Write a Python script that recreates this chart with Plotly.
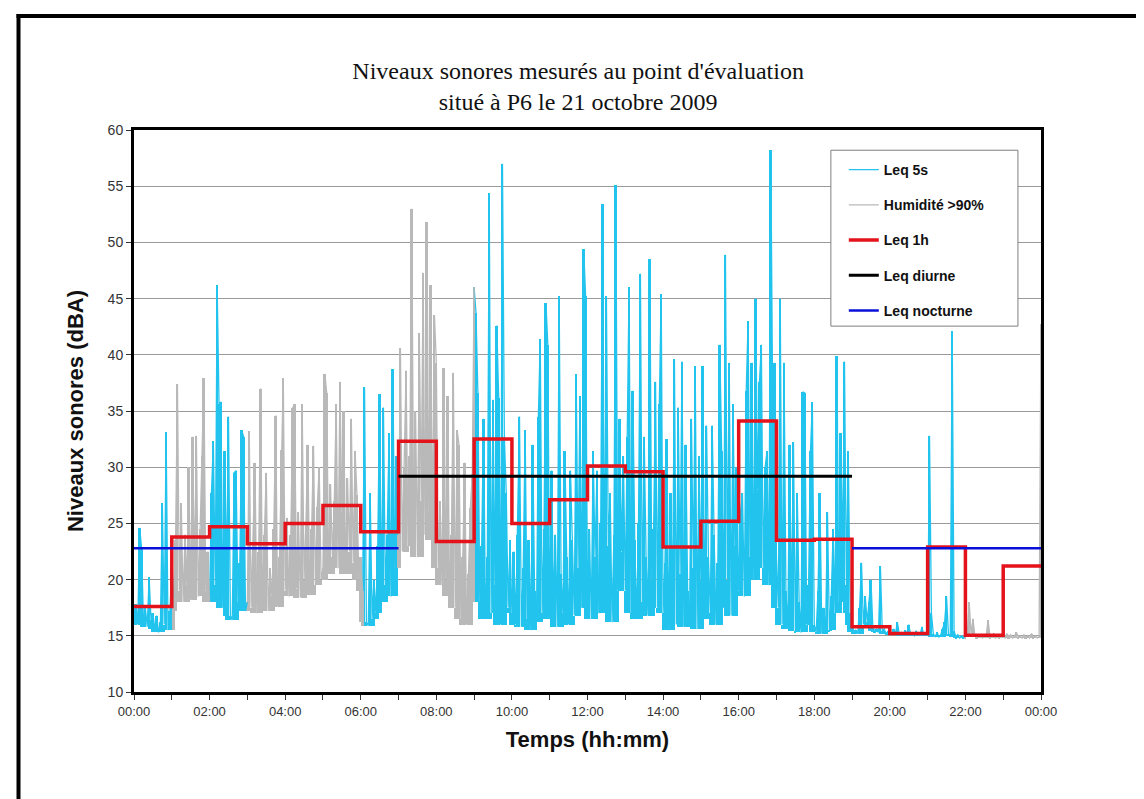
import plotly.graph_objects as go

# ---------------- data ----------------
STEP_H = 0.05  # one sample every 3 minutes (hours)

leq5s_h00 = [16.5, 17.8, 16.0, 24.6, 22.8, 16.2, 17.5, 15.8, 20.2, 16.4, 17.0, 15.6, 16.8, 15.3, 16.2, 26.8, 16.0, 33.1, 15.5, 17.2]
leq5s_h01 = [21.0, 18.5, 23.5, 37.4, 19.0, 26.8, 18.0, 24.0, 19.5, 30.0, 18.2, 32.7, 20.5, 32.8, 18.5, 24.5, 31.0, 37.9, 19.0, 22.5]
leq5s_h02 = [18.0, 27.7, 32.3, 19.5, 46.2, 35.6, 35.8, 17.5, 31.4, 20.5, 34.5, 16.8, 16.4, 29.5, 29.7, 18.0, 21.5, 33.3, 32.7, 17.2]
leq5s_h03 = [18.0, 33.2, 17.5, 23.0, 30.4, 17.0, 22.5, 37.0, 17.8, 24.0, 29.5, 17.2, 21.0, 18.5, 24.5, 34.6, 17.6, 22.0, 31.5, 37.9]
leq5s_h04 = [19.0, 25.5, 18.5, 24.0, 35.3, 35.6, 19.2, 26.0, 18.4, 35.6, 20.0, 25.0, 32.0, 18.6, 24.5, 31.9, 19.5, 26.5, 30.0, 20.0]
leq5s_h05 = [21.0, 38.3, 36.6, 20.5, 28.5, 22.0, 27.0, 35.6, 21.0, 37.6, 26.0, 35.0, 20.5, 29.0, 22.5, 34.3, 21.5, 31.4, 27.5, 20.0]
leq5s_h06 = [22.0, 19.0, 37.1, 16.2, 15.9, 27.7, 16.5, 20.0, 17.0, 23.0, 36.5, 18.0, 35.3, 19.5, 24.0, 33.0, 18.5, 38.7, 21.0, 31.0]
leq5s_h07 = [24.0, 40.6, 22.5, 30.0, 38.6, 23.0, 31.0, 53.0, 24.5, 35.0, 22.0, 41.9, 27.0, 47.3, 24.0, 51.8, 26.0, 46.2, 23.5, 43.5]
leq5s_h08 = [39.3, 21.0, 27.0, 19.5, 38.8, 20.0, 36.3, 18.5, 24.0, 38.4, 17.5, 33.3, 32.0, 16.5, 22.0, 30.4, 16.0, 20.5, 26.4, 29.4]
leq5s_h09 = [46.0, 43.7, 36.6, 18.0, 23.0, 34.3, 16.5, 22.0, 54.4, 17.0, 36.0, 19.5, 42.6, 36.2, 16.0, 57.0, 32.7, 27.7, 17.5, 23.5]
leq5s_h10 = [17.0, 22.5, 16.0, 24.0, 34.5, 15.8, 21.0, 33.3, 16.5, 23.5, 15.5, 32.0, 19.0, 16.2, 34.5, 41.4, 17.0, 24.5, 44.6, 40.9]
leq5s_h11 = [16.5, 29.7, 18.0, 24.0, 15.8, 45.2, 20.5, 17.0, 31.4, 22.0, 16.0, 29.7, 23.5, 16.8, 38.3, 21.0, 36.3, 17.5, 49.4, 45.2]
leq5s_h12 = [18.0, 24.5, 16.5, 31.4, 22.0, 29.7, 17.0, 25.0, 53.4, 18.5, 45.2, 23.0, 27.7, 16.2, 24.0, 55.1, 19.0, 34.3, 22.5, 31.0]
leq5s_h13 = [19.0, 32.7, 46.0, 17.0, 36.8, 23.5, 16.5, 25.0, 47.2, 18.0, 32.7, 22.0, 16.8, 48.5, 20.0, 24.5, 37.6, 17.5, 35.6, 45.4]
leq5s_h14 = [17.0, 21.5, 32.5, 15.5, 27.7, 18.0, 39.6, 16.0, 35.3, 20.5, 39.4, 15.8, 32.0, 19.0, 16.2, 34.3, 21.0, 39.0, 15.6, 31.0]
leq5s_h15 = [20.0, 39.0, 16.5, 33.7, 22.0, 17.0, 33.7, 24.0, 16.0, 21.5, 40.9, 31.4, 17.5, 48.9, 20.0, 39.3, 16.8, 35.6, 23.0, 30.0]
leq5s_h16 = [19.0, 26.0, 27.7, 18.5, 36.8, 43.0, 22.0, 39.3, 20.0, 45.0, 28.0, 37.6, 40.9, 21.0, 30.0, 31.4, 19.5, 58.2, 35.6, 39.3]
leq5s_h17 = [22.0, 17.5, 45.0, 16.0, 39.3, 19.0, 15.6, 32.0, 17.0, 32.2, 15.4, 27.7, 18.0, 15.3, 36.7, 36.6, 16.0, 19.5, 31.4, 35.8]
leq5s_h18 = [16.0, 15.3, 19.0, 27.7, 15.2, 17.5, 15.4, 26.0, 15.5, 18.5, 24.5, 17.0, 39.9, 18.0, 33.0, 22.0, 39.4, 19.5, 31.4, 17.0]
leq5s_h19 = [16.0, 15.3, 15.5, 15.2, 17.5, 21.5, 16.0, 18.5, 16.2, 18.0, 20.0, 15.8, 15.4, 15.6, 15.3, 21.2, 15.4, 15.6, 15.2, 15.4]
leq5s_h20 = [15.3, 15.1, 15.6, 15.2, 16.2, 15.1, 15.3, 15.0, 15.5, 15.2, 16.0, 15.1, 15.2, 15.0, 15.4, 15.2, 15.1, 15.8, 15.0, 15.2]
leq5s_h21 = [15.0, 32.8, 17.0, 15.2, 14.9, 15.3, 14.9, 15.1, 15.6, 16.2, 18.5, 15.2, 15.0, 42.1, 15.4, 14.9, 15.1, 14.8, 15.0, 14.9]
leq5s_h22 = [14.9, 15.2, 18.0, 15.1, 16.5, 15.0, 14.9, 15.1, 15.0, 14.8, 15.1, 15.0, 16.4, 14.9, 15.0, 15.2, 14.8, 15.0, 14.9, 15.1]
leq5s_h23 = [15.0, 14.8, 15.2, 14.9, 15.1, 14.8, 15.0, 15.3, 14.9, 15.0, 14.8, 15.1, 14.9, 15.0, 14.8, 15.2, 14.9, 15.0, 14.8, 15.0]
leq5s_last = [42.7]

# periods with humidity > 90 % (hours)
humid_start = [1.05, 3.0, 7.0, 22.0]
humid_end = [2.0, 6.05, 9.0, 24.0]

# hourly Leq (dBA), hours 0..23
leq1h_hours = list(range(25))
leq1h_values = [17.6, 23.8, 24.7, 23.2, 25.0, 26.6, 24.25, 32.3, 23.4, 32.5, 25.0, 27.1,
                30.1, 29.6, 22.9, 25.2, 34.1, 23.5, 23.6, 15.8, 15.2, 22.9, 15.05, 21.2]

leq_diurne_x = [7, 19]
leq_diurne_y = [29.2, 29.2]
leq_nocturne_x1 = [0, 7]
leq_nocturne_x2 = [19, 24]
leq_nocturne_y = [22.8, 22.8]

xtick_vals = list(range(0, 25, 2))
xtick_text = ["00:00", "02:00", "04:00", "06:00", "08:00", "10:00", "12:00",
              "14:00", "16:00", "18:00", "20:00", "22:00", "00:00"]

# ---------------- build ----------------
leq5s = (leq5s_h00 + leq5s_h01 + leq5s_h02 + leq5s_h03 + leq5s_h04 + leq5s_h05 +
         leq5s_h06 + leq5s_h07 + leq5s_h08 + leq5s_h09 + leq5s_h10 + leq5s_h11 +
         leq5s_h12 + leq5s_h13 + leq5s_h14 + leq5s_h15 + leq5s_h16 + leq5s_h17 +
         leq5s_h18 + leq5s_h19 + leq5s_h20 + leq5s_h21 + leq5s_h22 + leq5s_h23 + leq5s_last)
times = [round(i * STEP_H, 4) for i in range(len(leq5s))]


def inside(t, strict):
    for a, b in zip(humid_start, humid_end):
        if strict and a < t < b:
            return True
        if not strict and a - 1e-9 <= t <= b + 1e-9:
            return True
    return False


cyan_y = [None if inside(t, True) else v for t, v in zip(times, leq5s)]
gray_y = [v if inside(t, False) else None for t, v in zip(times, leq5s)]

# each 3-min column spans from the lowest level of the surrounding samples
# up to the sample, which renders the dense body of the 5 s record
WIN = 3
n = len(leq5s)
floor_y = [min(leq5s[max(0, i - WIN):min(n, i + WIN + 1)]) for i in range(n)]


def heights(series):
    return [None if v is None else max(v - f, 0) for v, f in zip(series, floor_y)]


CYAN = "#22C4EE"
GRAY = "#B9B9B9"
FONT = "Arial, Liberation Sans, sans-serif"

fig = go.Figure()
fig.add_trace(go.Bar(x=times, y=heights(cyan_y), base=floor_y, width=STEP_H,
                     marker=dict(color=CYAN, line=dict(width=0)), showlegend=False,
                     hoverinfo="skip"))
fig.add_trace(go.Bar(x=times, y=heights(gray_y), base=floor_y, width=STEP_H,
                     marker=dict(color=GRAY, line=dict(width=0)), showlegend=False,
                     hoverinfo="skip"))

fig.add_trace(go.Scatter(x=times, y=cyan_y, mode="lines", name="Leq 5s",
                         line=dict(color=CYAN, width=1.3), legendgroup="a",
                         connectgaps=False))
fig.add_trace(go.Scatter(x=times, y=gray_y, mode="lines", name="Humidité >90%",
                         line=dict(color=GRAY, width=1.3), legendgroup="b",
                         connectgaps=False))
fig.add_trace(go.Scatter(x=leq1h_hours, y=leq1h_values + [leq1h_values[-1]], mode="lines",
                         name="Leq 1h", line=dict(color="#E3121B", width=3.5, shape="hv"),
                         legendgroup="c"))
fig.add_trace(go.Scatter(x=leq_diurne_x, y=leq_diurne_y, mode="lines", name="Leq diurne",
                         line=dict(color="#000000", width=3), legendgroup="d"))
fig.add_trace(go.Scatter(x=leq_nocturne_x1 + [None] + leq_nocturne_x2,
                         y=leq_nocturne_y + [None] + leq_nocturne_y, mode="lines",
                         name="Leq nocturne", line=dict(color="#0A10D8", width=2.5),
                         legendgroup="e"))

W, H = 1144, 799
L, R, T, B = 126, 111, 122, 115
PW, PH = W - L - R, H - T - B
PX_PER_H = PW / 24.0


def px(xp):
    return (xp - L) / PW


def py(yp):
    return (H - B - yp) / PH


LEG_X0, LEG_X1 = 18.44, 23.39
leg_left_px = L + 18.2 * PX_PER_H

shapes = [
    # legend frame
    dict(type="rect", xref="x", yref="y", x0=LEG_X0, x1=LEG_X1, y0=42.55, y1=58.2,
         line=dict(color="#7f7f7f", width=1), fillcolor="white", layer="above"),
    # outer page frame
    dict(type="line", xref="paper", yref="paper", x0=px(10.5), x1=px(10.5), y0=py(6), y1=py(810),
         line=dict(color="black", width=4)),
    dict(type="line", xref="paper", yref="paper", x0=px(8.5), x1=px(1140), y0=py(8), y1=py(8),
         line=dict(color="black", width=4)),
    dict(type="line", xref="paper", yref="paper", x0=px(1138), x1=px(1138), y0=py(6), y1=py(810),
         line=dict(color="black", width=4)),
]

fig.update_layout(
    width=W, height=H,
    margin=dict(l=L, r=R, t=T, b=B, autoexpand=False),
    paper_bgcolor="white", plot_bgcolor="white",
    barmode="overlay", bargap=0,
    font=dict(family=FONT, color="#333333", size=13),
    title=dict(text="Niveaux sonores mesurés au point d'évaluation<br>situé à P6 le 21 octobre 2009",
               x=px(578), xanchor="center", y=1 - 71 / H, yanchor="top",
               font=dict(family="Liberation Serif, Times New Roman, serif", size=24, color="#111111")),
    showlegend=True,
    legend=dict(x=px(leg_left_px + 22), y=py(146), xanchor="left", yanchor="top",
                bgcolor="rgba(0,0,0,0)", borderwidth=0, itemwidth=30,
                tracegroupgap=14,
                font=dict(family=FONT, size=14, color="#111111", weight="bold")),
    shapes=shapes,
)

fig.update_xaxes(range=[0, 24], tickmode="array", tickvals=xtick_vals, ticktext=xtick_text,
                 ticks="outside", ticklen=5, tickcolor="#333333", tickwidth=1,
                 showline=True, linewidth=3, linecolor="black", mirror=True,
                 showgrid=False, zeroline=False,
                 tickfont=dict(family=FONT, size=13, color="#333333"),
                 minor=dict(tickmode="linear", tick0=0, dtick=1, ticks="outside", ticklen=5,
                            tickcolor="#333333", showgrid=False),
                 title=dict(text="Temps (hh:mm)", standoff=15,
                            font=dict(family=FONT, size=22, color="#111111", weight="bold")))
fig.update_yaxes(range=[10, 60], dtick=5, tick0=10,
                 ticks="outside", ticklen=5, tickcolor="#333333",
                 showline=True, linewidth=3, linecolor="black", mirror=True,
                 showgrid=True, gridcolor="#9a9a9a", gridwidth=1, zeroline=False,
                 tickfont=dict(family=FONT, size=14, color="#333333"),
                 title=dict(text="Niveaux sonores (dBA)", standoff=18,
                            font=dict(family=FONT, size=22, color="#111111", weight="bold")))

fig.write_html("out.html")
